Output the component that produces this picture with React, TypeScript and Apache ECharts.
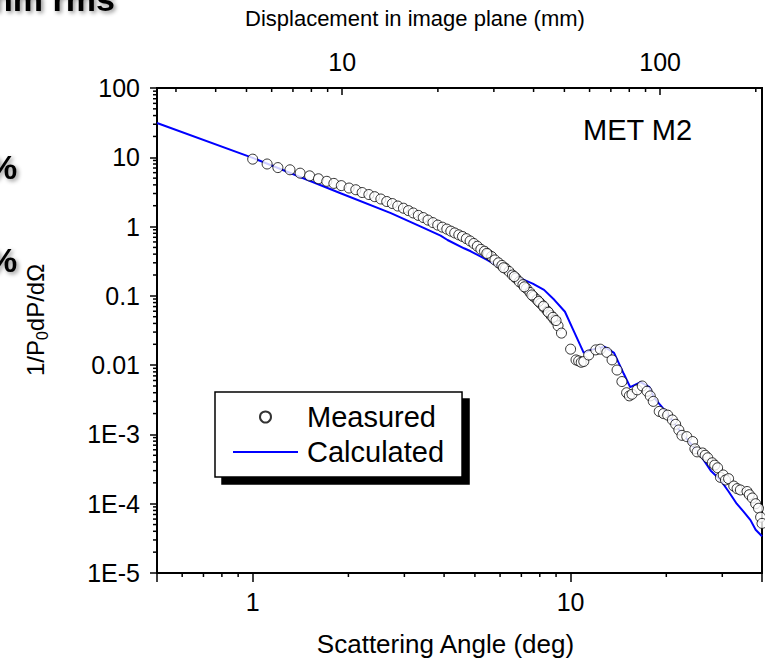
import React, { useEffect, useRef } from "react";
import * as echarts from "echarts";

// Axis ranges
const ANGLE_MIN = 0.5;
const ANGLE_MAX = 40;
const Y_MIN = 1e-5;
const Y_MAX = 100;
// image-plane displacement per degree of scattering angle (mm/deg)
const MM_PER_DEG = 5.23;

// Measured scatter (deg, 1/P0 dP/dΩ)
const MEASURED_ANGLE = [
  1.0, 1.11, 1.2, 1.31, 1.41, 1.51, 1.61, 1.71, 1.8, 1.9, 2.01, 2.11, 2.21, 2.32, 2.42, 2.53, 2.64, 2.75,
  2.86, 2.98, 3.09, 3.2, 3.32, 3.44, 3.56, 3.69, 3.82, 3.95, 4.08, 4.2, 4.32, 4.45, 4.57, 4.7, 4.83, 4.96,
  5.09, 5.22, 5.36, 5.5, 5.64, 5.78, 5.93, 6.08, 6.24, 6.4, 6.56, 6.73, 6.9, 7.08, 7.26, 7.45, 7.64, 7.84,
  8.04, 8.25, 8.46, 8.68, 8.9, 9.13, 9.36, 10.0, 10.4, 10.6, 10.8, 11.0, 11.4, 12.0, 12.4, 13.0, 13.5, 14.0,
  14.5, 15.0, 15.3, 15.6, 16.2, 16.8, 17.4, 17.8, 18.2, 19.0, 19.6, 20.2, 20.9, 21.4, 21.9, 22.4, 23.2, 24.2,
  24.6, 25.0, 26.0, 26.5, 27.0, 27.9, 28.4, 29.0, 29.6, 30.2, 30.7, 31.4, 32.6, 33.4, 34.2, 35.9, 36.5, 37.3,
  38.2, 39.0, 39.6, 40.0,
  5.45, 6.15, 6.65, 7.15, 7.55, 7.93, 8.22, 8.51, 8.8, 9.0,
];
const MEASURED_VALUE = [
  9.4, 8.0, 7.1, 6.6, 5.9, 5.4, 4.9, 4.5, 4.2, 3.9, 3.6, 3.4, 3.1, 2.9, 2.7, 2.5, 2.3, 2.15,
  1.98, 1.84, 1.7, 1.57, 1.45, 1.35, 1.24, 1.14, 1.05, 0.98, 0.92, 0.86, 0.81, 0.76, 0.72, 0.67, 0.62, 0.57,
  0.52, 0.47, 0.44, 0.4, 0.37, 0.33, 0.3, 0.275, 0.25, 0.225, 0.2, 0.18, 0.16, 0.145, 0.128, 0.112, 0.098, 0.088,
  0.078, 0.068, 0.06, 0.052, 0.045, 0.037, 0.029, 0.017, 0.0119, 0.0115, 0.011, 0.0113, 0.014, 0.0166, 0.017, 0.0153, 0.0119, 0.0085,
  0.0058, 0.004, 0.0036, 0.0038, 0.0044, 0.005, 0.0042, 0.0036, 0.003, 0.00215, 0.002, 0.0019, 0.00162, 0.0014, 0.00116, 0.00097, 0.00093, 0.00079,
  0.00062, 0.00056, 0.00054, 0.0005, 0.00046, 0.00039, 0.00036, 0.00033, 0.00024, 0.00026, 0.00022, 0.00023, 0.00018, 0.000165, 0.000158, 0.00015, 0.000135, 0.000121,
  0.0001, 0.000086, 0.000064, 0.000052,
  0.41, 0.255, 0.19, 0.135, 0.103, 0.083, 0.071, 0.058, 0.049, 0.044,
];

// Calculated curve (deg, 1/P0 dP/dΩ)
const CALC_ANGLE = [
  0.5, 1.0, 1.89, 2.72, 3.38, 3.9, 4.1, 4.62, 4.85, 5.46, 6.1, 6.8, 6.96, 7.6, 8.25, 8.9, 9.6, 10.2, 11.0,
  11.6, 12.8, 13.7, 14.7, 15.4, 16.6, 17.7, 18.3, 20.0, 22.0, 24.0, 25.6, 27.6, 29.6, 31.4, 33.3, 35.0,
  36.8, 38.2, 40.0,
];
const CALC_VALUE = [
  31.3, 9.8, 3.03, 1.56, 1.0, 0.74, 0.64, 0.486, 0.44, 0.33, 0.245, 0.2, 0.179, 0.15, 0.122, 0.087, 0.059, 0.032, 0.015,
  0.0166, 0.0184, 0.015, 0.0075, 0.0048, 0.0057, 0.0048, 0.0034, 0.0021, 0.00115, 0.00072, 0.0005, 0.0003, 0.00022, 0.00015, 0.0001, 0.000077,
  0.000058, 0.000042, 0.000034,
];

// Tick labels
const X_TICK_LABELS = ["1", "10"];
const TOP_TICK_LABELS = ["10", "100"];
const Y_TICK_LABELS = ["1E-5", "1E-4", "1E-3", "0.01", "0.1", "1", "10", "100"];

// Minor tick positions
const X_MINOR_TICKS = [0.6, 0.7, 0.8, 0.9, 2, 3, 4, 5, 6, 7, 8, 9, 20, 30];
const TOP_MINOR_TICKS = [3, 4, 5, 6, 7, 8, 9, 20, 30, 40, 50, 60, 70, 80, 90, 200];
const Y_MINOR_TICKS: number[] = [];
for (let e = -5; e < 2; e++) {
  for (let m = 2; m <= 9; m++) Y_MINOR_TICKS.push(m * Math.pow(10, e));
}

const FONT = "'Liberation Sans', Arial, Helvetica, sans-serif";

const isPow10 = (v: number) => Math.abs(Math.log10(v) - Math.round(Math.log10(v))) < 1e-6;

function labelFor(v: number, labels: string[], firstExp: number) {
  if (!isPow10(v)) return "";
  const i = Math.round(Math.log10(v)) - firstExp;
  return labels[i] ?? "";
}

function minorTicks(values: number[], side: "bottom" | "top" | "left", len: number) {
  return {
    type: "custom",
    xAxisIndex: side === "top" ? 1 : 0,
    yAxisIndex: 0,
    silent: true,
    z: 6,
    data: values.map((v) =>
      side === "left" ? [ANGLE_MIN, v] : side === "top" ? [v, Y_MAX] : [v, Y_MIN]
    ),
    renderItem: (_p: any, api: any) => {
      const pt = api.coord([api.value(0), api.value(1)]);
      const shape =
        side === "left"
          ? { x1: pt[0] - len, y1: pt[1], x2: pt[0], y2: pt[1] }
          : { x1: pt[0], y1: pt[1], x2: pt[0], y2: pt[1] + len };
      return { type: "line", shape, style: { stroke: "#000", lineWidth: 1.5 } };
    },
  };
}

const boldCut = (text: string, x: number, y: number) => ({
  type: "text",
  x,
  y,
  style: {
    text,
    fill: "#000",
    font: `bold 34px ${FONT}`,
    textShadowColor: "rgba(0,0,0,0.45)",
    textShadowBlur: 4,
    textShadowOffsetX: 2,
    textShadowOffsetY: 2,
  },
});

export default function App() {
  const ref = useRef<HTMLDivElement>(null);

  useEffect(() => {
    document.body.style.margin = "0";
    if (!ref.current) return;
    const chart = echarts.init(ref.current, null, { renderer: "svg" });

    const axisLine = { show: true, lineStyle: { color: "#000", width: 2 } };
    const labelStyle = { color: "#000", fontSize: 25, fontFamily: FONT };
    const hidden = { color: "rgba(0,0,0,0)", borderColor: "rgba(0,0,0,0)", borderWidth: 0 };

    chart.setOption({
      animation: false,
      backgroundColor: "#fff",
      grid: {
        left: 157,
        right: 3,
        top: 88,
        bottom: 93,
        show: true,
        borderColor: "#000",
        borderWidth: 2,
        backgroundColor: "transparent",
      },
      xAxis: [
        {
          type: "log",
          logBase: 10,
          position: "bottom",
          min: ANGLE_MIN,
          max: ANGLE_MAX,
          axisLine,
          axisTick: { show: true, length: 9, inside: false, lineStyle: { color: "#000", width: 1.5 } },
          splitLine: { show: false },
          axisLabel: {
            ...labelStyle,
            margin: 16,
            formatter: (v: number) => labelFor(v, X_TICK_LABELS, 0),
          },
          name: "Scattering Angle (deg)",
          nameLocation: "middle",
          nameGap: 58,
          nameTextStyle: { color: "#000", fontSize: 26, fontFamily: FONT, padding: [0, 28, 0, 0] },
        },
        {
          type: "log",
          logBase: 10,
          position: "top",
          min: ANGLE_MIN * MM_PER_DEG,
          max: ANGLE_MAX * MM_PER_DEG,
          axisLine,
          axisTick: { show: true, length: 7, inside: true, lineStyle: { color: "#000", width: 1.5 } },
          splitLine: { show: false },
          axisLabel: {
            ...labelStyle,
            margin: 14,
            formatter: (v: number) => labelFor(v, TOP_TICK_LABELS, 1),
          },
        },
      ],
      yAxis: {
        type: "log",
        logBase: 10,
        min: Y_MIN,
        max: Y_MAX,
        axisLine,
        axisTick: { show: true, length: 7, inside: false, lineStyle: { color: "#000", width: 1.5 } },
        splitLine: { show: false },
        axisLabel: {
          ...labelStyle,
          margin: 17,
          formatter: (v: number) => labelFor(v, Y_TICK_LABELS, -5),
        },
      },
      legend: {
        data: [
          { name: "Measured" },
          { name: "Calculated", itemStyle: hidden },
        ],
        left: 215,
        top: 392,
        orient: "vertical",
        itemWidth: 65,
        itemHeight: 11,
        itemGap: 5,
        padding: [10, 18, 10, 17],
        backgroundColor: "#fff",
        borderColor: "#000",
        borderWidth: 1.5,
        borderRadius: 0,
        shadowColor: "#000",
        shadowBlur: 0,
        shadowOffsetX: 7,
        shadowOffsetY: 7,
        selectedMode: false,
        textStyle: { color: "#000", fontSize: 29, fontFamily: FONT, lineHeight: 30, padding: [0, 0, 0, 4] },
      },
      graphic: [
        {
          type: "text",
          left: 245,
          top: 7,
          style: { text: "Displacement in image plane (mm)", fill: "#000", font: `22px ${FONT}` },
        },
        {
          type: "text",
          left: 583,
          top: 115,
          style: { text: "MET M2", fill: "#000", font: `29px ${FONT}` },
        },
        {
          type: "text",
          x: 35,
          y: 320,
          rotation: Math.PI / 2,
          style: {
            text: "{m|1/P}{s|0}{m|dP/dΩ}",
            align: "center",
            verticalAlign: "middle",
            rich: {
              m: { fontSize: 24, fontFamily: FONT, fill: "#000", lineHeight: 30 },
              s: { fontSize: 16, fontFamily: FONT, fill: "#000", lineHeight: 30, verticalAlign: "bottom" },
            },
          },
        },
        boldCut("nm rms", -8, -18),
        boldCut("%", -13, 150),
        boldCut("%", -13, 243),
      ],
      series: [
        {
          name: "Calculated",
          type: "line",
          xAxisIndex: 0,
          yAxisIndex: 0,
          data: CALC_ANGLE.map((a, i) => [a, CALC_VALUE[i]]),
          symbol: "none",
          lineStyle: { color: "#0000ff", width: 2 },
          itemStyle: hidden,
          z: 2,
        },
        {
          name: "Measured",
          type: "scatter",
          xAxisIndex: 0,
          yAxisIndex: 0,
          data: MEASURED_ANGLE.map((a, i) => [a, MEASURED_VALUE[i]]),
          symbol: "circle",
          symbolSize: 10,
          itemStyle: { color: "#fff", borderColor: "#000", borderWidth: 1 },
          z: 3,
        },
        minorTicks(X_MINOR_TICKS, "bottom", 4),
        minorTicks(TOP_MINOR_TICKS, "top", 4),
        minorTicks(Y_MINOR_TICKS, "left", 4),
      ],
    });

    return () => chart.dispose();
  }, []);

  return <div ref={ref} style={{ width: 765, height: 666 }} />;
}
